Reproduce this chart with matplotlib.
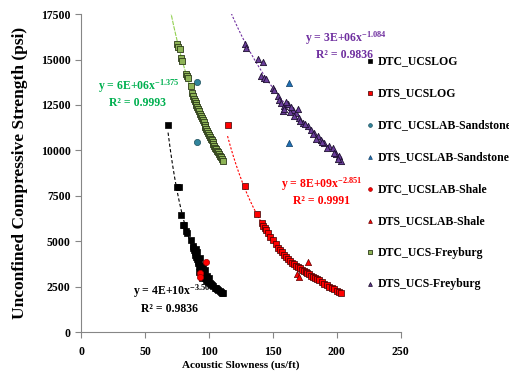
import numpy as np
import matplotlib
matplotlib.use('Agg')
import matplotlib.pyplot as plt

plt.rcParams['font.family'] = ['Liberation Serif', 'DejaVu Serif']
plt.rcParams['font.weight'] = 'bold'
plt.rcParams['mathtext.fontset'] = 'custom'
plt.rcParams['mathtext.rm'] = 'Liberation Serif:bold'
plt.rcParams['mathtext.it'] = 'Liberation Serif:bold'
plt.rcParams['mathtext.bf'] = 'Liberation Serif:bold'

# DTC_UCSLOG
dtc_log_x = [68.3, 75.3, 76.2, 78.5, 79.3, 80.6, 82.3, 83.0, 85.8, 87.2, 87.8, 88.3, 88.9, 89.4,
             90.0, 90.6, 91.1, 91.7, 92.2, 92.8, 93.4, 94.0, 94.7, 95.4, 96.2, 97.0, 97.8, 98.7,
             99.6, 100.5, 101.4, 102.4, 103.4, 104.4, 105.4, 106.4, 107.4, 108.4, 109.4, 110.3,
             111.0, 89.5, 91.0, 93.0, 95.0, 96.5, 98.5, 100.0, 92.5, 94.5]
dtc_log_y = [11400, 8000, 8000, 6450, 5900, 5880, 5550, 5450, 5080, 4720, 4650, 4520, 4380, 4250,
             4130, 4020, 3900, 3780, 3650, 3540, 3430, 3330, 3230, 3130, 3040, 2950, 2880, 2810,
             2740, 2690, 2630, 2570, 2510, 2450, 2400, 2350, 2300, 2250, 2200, 2160,
             2130, 4600, 4400, 4100, 3700, 3400, 3100, 2950, 3300, 3000]

# DTS_UCSLOG
dts_log_x = [114.8, 128.3, 137.3, 141.3, 142.5, 143.5, 144.5, 146.0, 148.0, 150.0, 152.0, 154.0,
             155.5, 157.0, 158.5, 160.0, 162.0, 163.5, 165.0, 166.5, 168.0, 169.5, 171.0, 172.5,
             174.0, 175.5, 177.0, 178.5, 180.0, 181.5, 183.0, 184.5, 186.0, 188.0, 190.0, 192.0,
             194.0, 196.0, 198.0, 200.0, 202.0, 203.5]
dts_log_y = [11420, 8020, 6480, 5990, 5850, 5720, 5600, 5450, 5220, 5050, 4850, 4620,
             4500, 4380, 4220, 4120, 4000, 3920, 3820, 3730, 3660, 3590, 3500, 3440,
             3370, 3310, 3240, 3170, 3100, 3040, 2970, 2900, 2840, 2750, 2660, 2580,
             2500, 2420, 2350, 2280, 2200, 2130]

# lab samples
dtc_sand_x = [90.7, 90.7]
dtc_sand_y = [13760, 10450]
dts_sand_x = [162.9, 162.9]
dts_sand_y = [13720, 10410]
dtc_shale_x = [97.9, 93.3, 93.3]
dtc_shale_y = [3880, 3240, 3020]
dts_shale_x = [177.2, 168.6, 170.2]
dts_shale_y = [3880, 3200, 3020]

# DTC_UCS-Freyburg
dtc_frey_x = [75.2, 75.8, 77.2, 77.9, 79.0, 82.2, 82.8, 83.6, 85.7, 86.8, 87.5, 88.2, 88.8, 89.5,
              90.2, 90.9, 91.6, 92.3, 93.0, 93.7, 94.4, 95.1, 95.8, 96.5, 97.2, 97.9, 98.6, 99.3,
              100.0, 100.7, 101.4, 102.1, 102.8, 103.5, 104.2, 104.9, 105.6, 106.3, 107.0, 107.8,
              108.6, 109.4, 110.2, 110.9]
dtc_frey_y = [15840, 15700, 15600, 15100, 14920, 14200, 14100, 14000, 13540, 13170, 13000, 12850,
              12740, 12620, 12500, 12380, 12260, 12150, 12020, 11900, 11790, 11660, 11540, 11420,
              11300, 11190, 11070, 10960, 10850, 10750, 10650, 10550, 10450, 10350, 10250, 10160,
              10070, 9980, 9890, 9800, 9710, 9620, 9520, 9400]

# DTS_UCS-Freyburg
dts_frey_x = [128.4, 129.2, 138.2, 142.1, 140.8, 142.9, 144.7, 149.9, 150.7, 153.8, 155.1, 156.4,
              159.0, 161.6, 165.5, 168.1, 170.7, 173.3, 177.2, 179.8, 182.4, 185.0, 187.6, 190.2,
              194.1, 196.7, 199.2, 201.9, 203.2, 157.5, 160.0, 163.0, 166.5, 169.5, 171.5, 175.0,
              181.0, 184.0, 188.5, 192.0, 198.0, 200.5, 158.5, 164.0]
dts_frey_y = [15840, 15660, 15010, 14890, 14090, 14000, 13910, 13450, 13320, 12990, 12800, 12620,
              12430, 12530, 12250, 12070, 11790, 11520, 11330, 11150, 10970, 10780, 10600, 10410,
              10230, 10140, 9800, 9680, 9400, 12150, 12650, 12100, 11900, 12300, 11600, 11450,
              10900, 10650, 10450, 10150, 9850, 9550, 12300, 12400]

labels = ['DTC_UCSLOG', 'DTS_UCSLOG', 'DTC_UCSLAB-Sandstone', 'DTS_UCSLAB-Sandstone',
          'DTC_UCSLAB-Shale', 'DTS_UCSLAB-Shale', 'DTC_UCS-Freyburg', 'DTS_UCS-Freyburg']

fig = plt.figure(figsize=(5.1, 3.83), dpi=100)
ax = fig.add_axes([0.159, 0.133, 0.627, 0.830])

ms = 20
ax.scatter(dtc_log_x, dtc_log_y, s=ms, marker='s', c='black', edgecolors='black', lw=0.5, label=labels[0], zorder=3)
ax.scatter(dts_log_x, dts_log_y, s=ms, marker='s', c='#FF0000', edgecolors='#3a0000', lw=0.5, label=labels[1], zorder=3)
ax.scatter(dtc_sand_x, dtc_sand_y, s=ms, marker='o', c='#31859C', edgecolors='#1d4f5c', lw=0.5, label=labels[2], zorder=3)
ax.scatter(dts_sand_x, dts_sand_y, s=ms, marker='^', c='#1F6FB5', edgecolors='#123f66', lw=0.5, label=labels[3], zorder=3)
ax.scatter(dtc_shale_x, dtc_shale_y, s=ms, marker='o', c='#FF0000', edgecolors='#a00000', lw=0.5, label=labels[4], zorder=3)
ax.scatter(dts_shale_x, dts_shale_y, s=ms, marker='^', c='#FF0000', edgecolors='#600000', lw=0.5, label=labels[5], zorder=3)
ax.scatter(dtc_frey_x, dtc_frey_y, s=ms, marker='s', c='#8DB356', edgecolors='#2b3a18', lw=0.6, label=labels[6], zorder=3)
ax.scatter(dts_frey_x, dts_frey_y, s=ms, marker='^', c='#6A3D9A', edgecolors='#1e1030', lw=0.6, label=labels[7], zorder=3)


def trend(x, y, x0, x1, **kw):
    b, a = np.polyfit(np.log(x), np.log(y), 1)
    xx = np.linspace(x0, x1, 200)
    ax.plot(xx, np.exp(a) * xx ** b, zorder=2, **kw)


trend(dtc_log_x, dtc_log_y, 68, 111, color='black', lw=0.8, ls=(0, (3, 2)))
trend(dts_log_x, dts_log_y, 114.5, 205, color='#FF0000', lw=0.8, ls=(0, (2, 1.5)))
trend(dtc_frey_x, dtc_frey_y, 66, 111, color='#92D050', lw=0.8, ls=(0, (4, 1)))
trend(dts_frey_x, dts_frey_y, 110, 204, color='#7030A0', lw=0.8, ls=(0, (2, 1.5)))

eq = dict(ha='center', va='center', fontsize=8.5, fontweight='bold')
ax.text(45, 13550, r'y = 6E+06x$^{-1.375}$', color='#00B050', **eq)
ax.text(44, 12600, 'R² = 0.9993', color='#00B050', **eq)
ax.text(207, 16200, r'y = 3E+06x$^{-1.084}$', color='#7030A0', **eq)
ax.text(206, 15250, 'R² = 0.9836', color='#7030A0', **eq)
ax.text(188, 8150, r'y = 8E+09x$^{-2.851}$', color='#FF0000', **eq)
ax.text(188, 7200, 'R² = 0.9991', color='#FF0000', **eq)
ax.text(71, 2250, r'y = 4E+10x$^{-3.56}$', color='black', **eq)
ax.text(69.5, 1250, 'R² = 0.9836', color='black', **eq)

ax.set_xlim(0, 250)
ax.set_ylim(0, 17500)
ax.set_xticks(np.arange(0, 251, 50))
ax.set_yticks(np.arange(0, 17501, 2500))
ax.tick_params(axis='both', labelsize=8.5, color='#868686', length=4, width=0.8)
ax.tick_params(axis='x', pad=6)
for lab in ax.get_xticklabels() + ax.get_yticklabels():
    lab.set_fontweight('bold')
for s in ['top', 'right']:
    ax.spines[s].set_visible(False)
for s in ['left', 'bottom']:
    ax.spines[s].set_color('#868686')
    ax.spines[s].set_linewidth(0.8)

ax.set_xlabel('Acoustic Slowness (us/ft)', fontsize=8, fontweight='bold', labelpad=2)
ax.set_ylabel('Unconfined Compressive Strength (psi)', fontsize=12.5, fontweight='bold', labelpad=9)

fig.legend(loc='upper left', bbox_to_anchor=(0.72, 0.855), frameon=False,
           prop={'weight': 'bold', 'size': 8.5}, markerscale=0.6, handlelength=0.5,
           handletextpad=0.4, labelspacing=1.68, borderpad=0, borderaxespad=0, scatterpoints=1)

fig.savefig('out.png', dpi=100)
